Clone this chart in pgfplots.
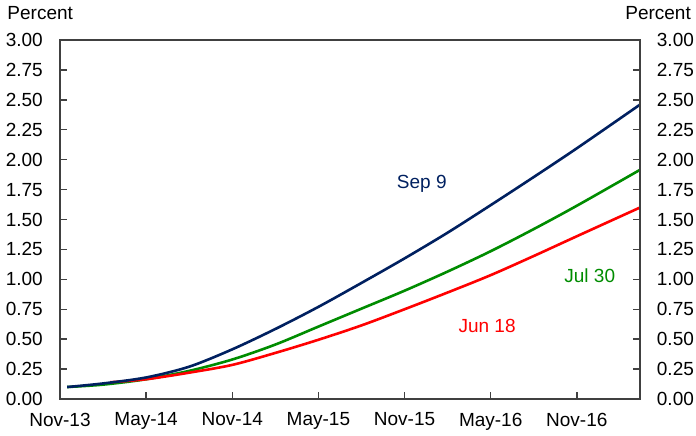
\documentclass[border=0pt]{standalone}
\usepackage{pgfplots}
\pgfplotsset{compat=1.18}
\usepackage{fontspec}
\setmainfont{Liberation Sans}
\definecolor{navy}{RGB}{0,32,96}
\definecolor{fgreen}{RGB}{0,140,0}
\definecolor{fred}{RGB}{255,0,0}
\definecolor{axgray}{RGB}{64,64,64}
\begin{document}
\fontsize{19bp}{23bp}\selectfont
\begin{tikzpicture}
\useasboundingbox (-60bp,-37bp) rectangle (636bp,399bp);
\pgfplotsset{
  common/.style={
    at={(0,0)}, anchor=south west,
    scale only axis, width=580bp, height=359bp,
    xmin=0, xmax=40.4, ymin=0, ymax=3,
    ytick={0,0.25,0.5,0.75,1,1.25,1.5,1.75,2,2.25,2.5,2.75,3},
    yticklabel={\pgfmathprintnumber[fixed,fixed zerofill,precision=2]{\tick}},
    /pgf/number format/assume math mode=true,
    axis line style={axgray, line width=1.4bp},
    tick style={axgray, line width=1.4bp},
    major tick length=7bp,
    tick align=inside,
  }
}
\begin{axis}[common,
  xtick={0,6,12,18,24,30,36},
  xticklabels={Nov-13,May-14,Nov-14,May-15,Nov-15,May-16,Nov-16},
  xtick pos=lower,
  ytick pos=left,
  yticklabel style={anchor=east, inner sep=0pt, xshift=-17bp},
  xticklabel style={anchor=north, inner sep=0pt, yshift=-13.7bp},
  line join=round,
]
\addplot[fgreen, line width=2.6bp, smooth] coordinates {
(0.5,0.10) (3,0.12) (6,0.165) (9,0.235) (12,0.33) (15,0.455) (18,0.605) (21,0.755) (24,0.905) (27,1.065) (30,1.235) (33,1.42) (36,1.615) (40.4,1.915)};
\addplot[fred, line width=2.6bp, smooth] coordinates {
(3.5,0.14) (6,0.165) (9,0.22) (12,0.285) (15,0.385) (18,0.495) (21,0.615) (24,0.75) (27,0.89) (30,1.035) (33,1.195) (36,1.36) (40.4,1.60)};
\addplot[navy, line width=2.6bp, smooth] coordinates {
(0.5,0.10) (3,0.13) (6,0.18) (9,0.27) (12,0.415) (15,0.585) (18,0.77) (21,0.97) (24,1.175) (27,1.39) (30,1.62) (33,1.855) (36,2.095) (40.4,2.46)};
\node[navy, anchor=base, inner sep=0pt] at (axis cs:25.2,1.758) {Sep 9};
\node[fgreen, anchor=base, inner sep=0pt] at (axis cs:36.9,0.975) {Jul 30};
\node[fred, anchor=base, inner sep=0pt] at (axis cs:29.75,0.556) {Jun 18};
\end{axis}
\begin{axis}[common,
  xtick=\empty,
  ytick pos=right,
  yticklabel pos=right,
  yticklabel style={anchor=west, inner sep=0pt, xshift=16.7bp},
]
\end{axis}
\node[anchor=base west, inner sep=0pt] at (-52.7bp,379.7bp) {Percent};
\node[anchor=base east, inner sep=0pt] at (631bp,379.7bp) {Percent};
\end{tikzpicture}
\end{document}
